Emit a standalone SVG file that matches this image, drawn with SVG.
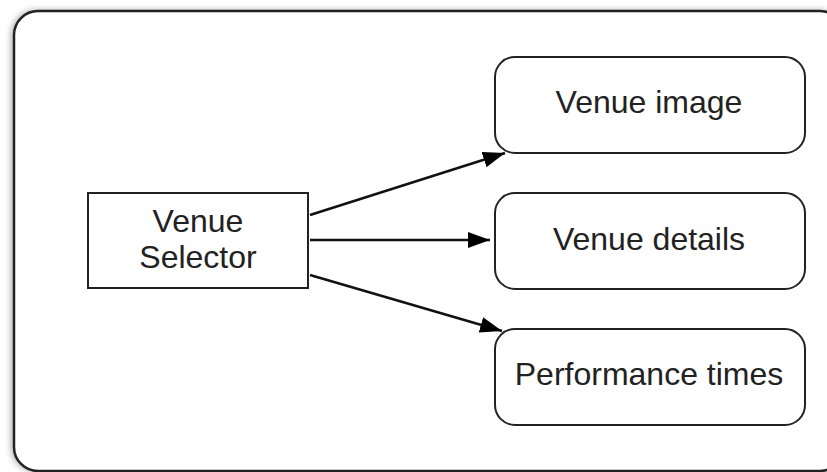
<svg xmlns="http://www.w3.org/2000/svg" width="827" height="472" viewBox="0 0 827 472">
<style>
.box{fill:#fff;stroke:#222;stroke-width:2}
.lbl{font-family:"Liberation Sans",Arial,sans-serif;font-size:32px;fill:#222;text-anchor:middle}
.edge{stroke:#111;stroke-width:2.5;fill:none}
</style>
<defs>
<marker id="ah" markerUnits="userSpaceOnUse" markerWidth="24" markerHeight="18" refX="22" refY="8" orient="auto">
<path d="M0,0 L22,8 L0,16 Z" fill="#000"/>
</marker>
<filter id="sh" x="-5%" y="-5%" width="110%" height="110%">
<feGaussianBlur in="SourceAlpha" stdDeviation="3"/>
<feOffset dx="-2" dy="0"/>
<feComponentTransfer><feFuncA type="linear" slope="0.3"/></feComponentTransfer>
<feMerge><feMergeNode/><feMergeNode in="SourceGraphic"/></feMerge>
</filter>
</defs>
<rect width="827" height="472" fill="#fff"/>
<g id="frame">
<rect x="14" y="11" width="830" height="460" rx="24" ry="24" fill="#fff" stroke="#222" stroke-width="2.5" filter="url(#sh)"/>
</g>
<g id="edges">
<line class="edge" x1="310" y1="215" x2="505" y2="153" marker-end="url(#ah)"/>
<line class="edge" x1="310" y1="240" x2="490" y2="240" marker-end="url(#ah)"/>
<line class="edge" x1="310" y1="275" x2="502" y2="331" marker-end="url(#ah)"/>
</g>
<g id="venue-selector">
<rect class="box" x="88" y="193" width="220" height="95"/>
<text class="lbl" x="198" y="232">Venue</text>
<text class="lbl" x="198" y="268">Selector</text>
</g>
<g id="venue-image">
<rect class="box" x="495" y="57" width="310" height="96" rx="20" ry="20"/>
<text class="lbl" x="649" y="113">Venue image</text>
</g>
<g id="venue-details">
<rect class="box" x="495" y="193" width="310" height="96" rx="20" ry="20"/>
<text class="lbl" x="649" y="250">Venue details</text>
</g>
<g id="performance-times">
<rect class="box" x="495" y="329" width="310" height="96" rx="20" ry="20"/>
<text class="lbl" x="649" y="385">Performance times</text>
</g>
</svg>
